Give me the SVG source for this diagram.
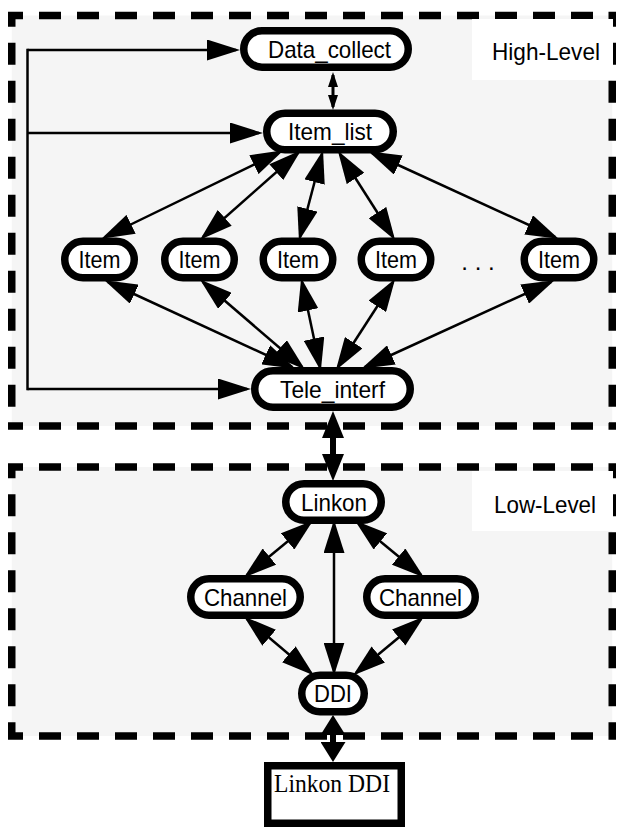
<svg xmlns="http://www.w3.org/2000/svg" width="620" height="827" viewBox="0 0 620 827">
<style>
.bg{fill:#f5f5f5;stroke:none}
.dash{fill:none;stroke:#000;stroke-width:7.5;stroke-dasharray:22 16;stroke-dashoffset:7}
.pill{fill:#fff;stroke:#000;stroke-width:7.5}
.t{font-family:"Liberation Sans",Arial,Helvetica,sans-serif;font-size:24px;fill:#000;text-anchor:middle}
.lbl{font-family:"Liberation Sans",Arial,Helvetica,sans-serif;font-size:24px;fill:#000;text-anchor:middle}
.ser{font-family:"Liberation Serif","Times New Roman",serif;font-size:25px;fill:#000}
.c{fill:none;stroke:#000;stroke-width:2.5}
.cd{fill:none;stroke:#000;stroke-width:2.5;marker-start:url(#ah);marker-end:url(#ah)}
.ce{fill:none;stroke:#000;stroke-width:2.5;marker-end:url(#ah)}
.cs{fill:none;stroke:#000;stroke-width:3;marker-start:url(#ahs);marker-end:url(#ahs)}
.ct{fill:none;stroke:#000;stroke-width:6;marker-start:url(#aht);marker-end:url(#aht)}
.ct2{fill:none;stroke:#000;stroke-width:6;marker-start:url(#aht2);marker-end:url(#aht2)}
</style>
<defs>
<marker id="ah" markerUnits="userSpaceOnUse" viewBox="0 0 33 21" markerWidth="33" markerHeight="21" refX="29" refY="10.5" orient="auto-start-reverse"><path d="M0,0 L33,10.5 L0,21 Z" fill="#000"/></marker>
<marker id="ahs" markerUnits="userSpaceOnUse" viewBox="0 0 15 10" markerWidth="15" markerHeight="10" refX="12" refY="5" orient="auto-start-reverse"><path d="M0,0 L15,5 L0,10 Z" fill="#000"/></marker>
<marker id="aht" markerUnits="userSpaceOnUse" viewBox="0 0 27 22" markerWidth="27" markerHeight="22" refX="19" refY="11" orient="auto-start-reverse"><path d="M0,0 L27,11 L0,22 Z" fill="#000"/></marker>
<marker id="aht2" markerUnits="userSpaceOnUse" viewBox="0 0 20 25" markerWidth="20" markerHeight="25" refX="12" refY="12.5" orient="auto-start-reverse"><path d="M0,0 L20,12.5 L0,25 Z" fill="#000"/></marker>
</defs>

<g id="high-level-box">
<rect class="bg" x="11.75" y="15.5" width="600.5" height="410.5"/>
<path class="dash" d="M8,15.5 H616 M8,426 H616 M11.75,11.75 V429.75 M612.25,11.75 V429.75"/>
<rect x="472" y="19" width="141" height="61" fill="#fff"/>
<text class="lbl" x="546" y="60" textLength="108" lengthAdjust="spacingAndGlyphs">High-Level</text>
</g>

<g id="low-level-box">
<rect class="bg" x="11.75" y="467" width="600.5" height="269"/>
<path class="dash" d="M8,467 H616 M8,736 H616 M11.75,463.25 V739.75 M612.25,463.25 V739.75"/>
<rect x="472" y="471" width="141" height="60" fill="#fff"/>
<text class="lbl" x="545" y="513" textLength="102" lengthAdjust="spacingAndGlyphs">Low-Level</text>
</g>

<g id="connectors">
<path class="c" d="M27.5,50 V389" stroke-linecap="square"/>
<path class="ce" d="M27.5,50 H236"/>
<path class="ce" d="M27.5,133 H259"/>
<path class="ce" d="M27.5,389 H247"/>
<path class="cs" d="M333,75 V107"/>
<path class="cd" d="M280,152 L105,237"/>
<path class="cd" d="M298,153 L203,237"/>
<path class="cd" d="M322,154 L300,237"/>
<path class="cd" d="M340,154 L393,237"/>
<path class="cd" d="M372,153 L555,237"/>
<path class="cd" d="M108,282 L292,367"/>
<path class="cd" d="M203,282 L302,367"/>
<path class="cd" d="M302,282 L320,367"/>
<path class="cd" d="M393,282 L338,367"/>
<path class="cd" d="M551,282 L365,367"/>
<path class="ct" d="M333,419 V473"/>
<path class="cd" d="M310,523 L247,575"/>
<path class="cd" d="M358,523 L421,575"/>
<path class="cd" d="M334,524 V671.5"/>
<path class="cd" d="M247,619 L311,673"/>
<path class="cd" d="M421,619 L356,673"/>
<path class="ct2" d="M333,723 V754"/>
</g>

<g id="data_collect"><rect class="pill" x="243.75" y="30.75" width="164.5" height="36.5" rx="18.25"/><text class="t" x="329.5" y="57.5" textLength="123" lengthAdjust="spacingAndGlyphs">Data_collect</text></g>
<g id="item_list"><rect class="pill" x="266.75" y="113.25" width="126.5" height="36.5" rx="18.25"/><text class="t" x="330" y="140" textLength="84" lengthAdjust="spacingAndGlyphs">Item_list</text></g>
<g id="item1"><rect class="pill" x="64.75" y="241.25" width="69.5" height="36.5" rx="18.25"/><text class="t" x="99.5" y="268" textLength="42" lengthAdjust="spacingAndGlyphs">Item</text></g>
<g id="item2"><rect class="pill" x="164.75" y="241.25" width="69.5" height="36.5" rx="18.25"/><text class="t" x="199.5" y="268" textLength="42" lengthAdjust="spacingAndGlyphs">Item</text></g>
<g id="item3"><rect class="pill" x="263.25" y="241.25" width="69.5" height="36.5" rx="18.25"/><text class="t" x="298" y="268" textLength="42" lengthAdjust="spacingAndGlyphs">Item</text></g>
<g id="item4"><rect class="pill" x="361.25" y="241.25" width="69.5" height="36.5" rx="18.25"/><text class="t" x="396" y="268" textLength="42" lengthAdjust="spacingAndGlyphs">Item</text></g>
<g id="ellipsis"><text class="t" x="478" y="270">. . .</text></g>
<g id="item5"><rect class="pill" x="524.25" y="241.25" width="69.5" height="36.5" rx="18.25"/><text class="t" x="559" y="268" textLength="42" lengthAdjust="spacingAndGlyphs">Item</text></g>
<g id="tele_interf"><rect class="pill" x="254.75" y="370.75" width="155.5" height="36.5" rx="18.25"/><text class="t" x="332.5" y="397.5" textLength="105" lengthAdjust="spacingAndGlyphs">Tele_interf</text></g>
<g id="linkon"><rect class="pill" x="285.75" y="483.75" width="95.5" height="36.5" rx="18.25"/><text class="t" x="334" y="510.5" textLength="66" lengthAdjust="spacingAndGlyphs">Linkon</text></g>
<g id="channel1"><rect class="pill" x="190.75" y="578.75" width="109.5" height="36.5" rx="18.25"/><text class="t" x="245.5" y="605.5" textLength="83" lengthAdjust="spacingAndGlyphs">Channel</text></g>
<g id="channel2"><rect class="pill" x="366.75" y="578.75" width="108.5" height="36.5" rx="18.25"/><text class="t" x="420.5" y="605.5" textLength="83" lengthAdjust="spacingAndGlyphs">Channel</text></g>
<g id="ddi"><rect class="pill" x="301.75" y="675.25" width="62.5" height="36.5" rx="18.25"/><text class="t" x="333" y="702" textLength="38" lengthAdjust="spacingAndGlyphs">DDI</text></g>
<g id="linkon_ddi"><rect x="267.75" y="765.75" width="133.5" height="57.5" fill="#fff" stroke="#000" stroke-width="7.5"/><text class="ser" x="274" y="792" textLength="116" lengthAdjust="spacingAndGlyphs">Linkon DDI</text></g>
</svg>
